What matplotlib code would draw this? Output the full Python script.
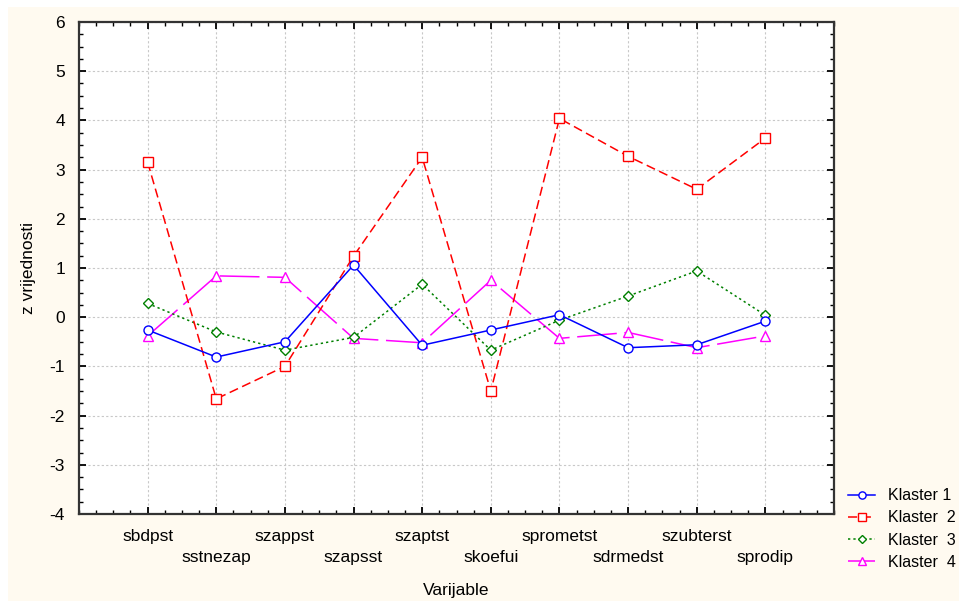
import matplotlib
matplotlib.use('Agg')
import matplotlib.pyplot as plt
from matplotlib.patches import Rectangle
from matplotlib.ticker import MultipleLocator
import numpy as np

plt.rcParams['font.family'] = ['Liberation Sans', 'DejaVu Sans']
plt.rcParams['axes.unicode_minus'] = False

varijable = ['sbdpst', 'sstnezap', 'szappst', 'szapsst', 'szaptst',
             'skoefui', 'sprometst', 'sdrmedst', 'szubterst', 'sprodip']
klaster1 = [-0.26, -0.81, -0.50, 1.06, -0.57, -0.26, 0.05, -0.62, -0.56, -0.08]
klaster2 = [3.15, -1.66, -1.00, 1.24, 3.25, -1.50, 4.04, 3.27, 2.60, 3.64]
klaster3 = [0.28, -0.30, -0.67, -0.41, 0.67, -0.67, -0.06, 0.43, 0.94, 0.04]
klaster4 = [-0.38, 0.84, 0.81, -0.43, -0.52, 0.75, -0.43, -0.31, -0.62, -0.38]
nazivi = ['Klaster 1', 'Klaster  2', 'Klaster  3', 'Klaster  4']

cream = '#fffaf0'
fs = 12.5
fig = plt.figure(figsize=(9.59, 6.01), dpi=100)
fig.patches.append(Rectangle((8 / 959, 0), 1, 1 - 7 / 601, transform=fig.transFigure,
                             facecolor=cream, edgecolor='none', zorder=-10))
ax = fig.add_axes([79 / 959, 1 - 514 / 601, (834 - 79) / 959, (514 - 22) / 601])
ax.set_facecolor('white')

x = np.arange(1, len(varijable) + 1)
ax.plot(x, klaster1, color='#0000ff', lw=1.1, marker='o', ms=6.5, mfc='white',
        mec='#0000ff', label=nazivi[0], zorder=5)
ax.plot(x, klaster2, color='#ff0000', lw=1.1, marker='s', ms=6.5, mfc='white',
        mec='#ff0000', dashes=(6, 3), label=nazivi[1], zorder=4)
ax.plot(x, klaster3, color='#008000', lw=1.1, marker='D', ms=5, mfc='white',
        mec='#008000', dashes=(1.5, 2), label=nazivi[2], zorder=3)
ax.plot(x, klaster4, color='#ff00ff', lw=1.1, marker='^', ms=7, mfc='white',
        mec='#ff00ff', dashes=(26, 5), label=nazivi[3], zorder=2)

ax.set_xlim(0, 11)
ax.set_ylim(-4, 6)
ax.xaxis.set_major_locator(MultipleLocator(1))
ax.xaxis.set_minor_locator(MultipleLocator(0.25))
ax.yaxis.set_major_locator(MultipleLocator(1))
ax.yaxis.set_minor_locator(MultipleLocator(0.25))
ax.grid(True, which='major', color='#c8c8c8', linestyle=(0, (2, 2)), lw=0.8)

ax.set_xticks(x)
labels = [('' if i % 2 == 0 else '\n') + v for i, v in enumerate(varijable)]
ax.set_xticklabels(labels, fontsize=fs, linespacing=1.5)
ax.tick_params(axis='both', which='both', direction='in', top=True, right=True)
ax.tick_params(axis='both', which='major', length=5, width=1.3, labelsize=fs, pad=10.5)
ax.tick_params(axis='y', which='major', pad=10)
ax.tick_params(axis='both', which='minor', length=3, width=1.0)
for s in ax.spines.values():
    s.set_linewidth(1.6)
    s.set_color('#333333')

ax.set_xlabel('Varijable', fontsize=fs, labelpad=13)
ax.set_ylabel('z vrijednosti', fontsize=fs, labelpad=10)

leg = fig.legend(loc='center left', bbox_to_anchor=(848 / 959, 1 - 529 / 601),
                 frameon=False, fontsize=11.5, handlelength=1.7, handletextpad=0.8,
                 labelspacing=0.45, borderpad=0, borderaxespad=0, markerscale=0.8)

plt.savefig('out.png', dpi=100, facecolor='white')
